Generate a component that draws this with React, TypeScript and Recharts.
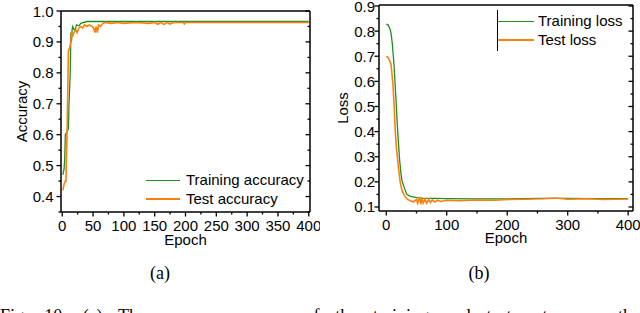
import { LineChart, Line, XAxis, YAxis, Legend } from "recharts";

// accuracy panel (a)
const trainAccEpochs = [1, 2, 3, 4, 5, 8, 10, 11, 13, 14, 15, 16, 17, 19, 21, 23, 27, 30, 40, 100, 200, 300, 400];
const trainAccValues = [0.47, 0.48, 0.49, 0.52, 0.6, 0.61, 0.62, 0.7, 0.8, 0.93, 0.9, 0.94, 0.95, 0.94, 0.94, 0.955, 0.952, 0.96, 0.966, 0.966, 0.966, 0.966, 0.966];
const testAccEpochs = [1, 3, 5, 6, 7, 8, 9, 10, 12, 14, 15, 17, 20, 22, 24, 27, 30, 33, 36, 40, 44, 48, 51, 53, 55, 57, 59, 62, 66, 70, 80, 90, 100, 120, 140, 150, 155, 160, 165, 170, 175, 180, 196, 198, 200, 250, 300, 400];
const testAccValues = [0.42, 0.44, 0.45, 0.45, 0.55, 0.62, 0.75, 0.87, 0.88, 0.9, 0.93, 0.92, 0.935, 0.94, 0.93, 0.945, 0.95, 0.945, 0.955, 0.95, 0.955, 0.95, 0.945, 0.93, 0.95, 0.93, 0.955, 0.95, 0.96, 0.963, 0.96, 0.963, 0.96, 0.963, 0.96, 0.963, 0.957, 0.963, 0.956, 0.963, 0.958, 0.963, 0.963, 0.958, 0.963, 0.963, 0.963, 0.963];

// loss panel (b)
const trainLossEpochs = [0, 3, 6, 8, 10, 13, 16, 18, 20, 22, 24, 26, 30, 34, 40, 50, 60, 80, 100, 150, 200, 250, 300, 350, 400];
const trainLossValues = [0.828, 0.825, 0.81, 0.79, 0.75, 0.66, 0.53, 0.44, 0.36, 0.29, 0.24, 0.205, 0.175, 0.15, 0.142, 0.137, 0.135, 0.134, 0.133, 0.132, 0.132, 0.134, 0.134, 0.133, 0.133];
const testLossEpochs = [0, 3, 6, 8, 11, 13, 15, 17, 20, 23, 26, 30, 35, 40, 45, 50, 52, 55, 57, 59, 61, 64, 67, 70, 73, 76, 80, 85, 90, 100, 120, 150, 180, 200, 230, 260, 280, 300, 330, 360, 400];
const testLossValues = [0.7, 0.695, 0.68, 0.665, 0.59, 0.5, 0.4, 0.33, 0.26, 0.2, 0.165, 0.145, 0.13, 0.125, 0.12, 0.13, 0.115, 0.14, 0.11, 0.135, 0.115, 0.13, 0.115, 0.13, 0.118, 0.128, 0.12, 0.127, 0.122, 0.127, 0.125, 0.128, 0.127, 0.13, 0.131, 0.133, 0.136, 0.131, 0.133, 0.13, 0.132];

// ticks (majors get labels)
const accXTicks = [0, 25, 50, 75, 100, 125, 150, 175, 200, 225, 250, 275, 300, 325, 350, 375, 400];
const accYTicks = [0.35, 0.4, 0.45, 0.5, 0.55, 0.6, 0.65, 0.7, 0.75, 0.8, 0.85, 0.9, 0.95, 1.0];
const lossXTicks = [0, 50, 100, 150, 200, 250, 300, 350, 400];
const lossYTicks = [0.1, 0.15, 0.2, 0.25, 0.3, 0.35, 0.4, 0.45, 0.5, 0.55, 0.6, 0.65, 0.7, 0.75, 0.8, 0.85, 0.9];

const accSeriesNames = ["Training accuracy", "Test accuracy"];
const lossSeriesNames = ["Training loss", "Test loss"];

const GREEN = "#1f8f1f";
const ORANGE = "#ff7f0e";
const FONT = "'Liberation Sans', Arial, sans-serif";

const zip = (xs: number[], ys: number[]) => xs.map((epoch, i) => ({ epoch, value: ys[i] }));

type Side = "bottom" | "left" | "top" | "right";

function makeTick(side: Side, isMajor: (v: number) => boolean, fmt?: (v: number) => string, gap = 6) {
  return (props: any) => {
    const { x, y, payload } = props;
    const v = payload.value as number;
    const major = isMajor(v);
    const len = major ? 4.5 : 2.5;
    let line = null;
    let label = null;
    if (side === "bottom") {
      line = <line x1={x} y1={y} x2={x} y2={y + len} stroke="#000" strokeWidth={1.3} />;
      if (major && fmt)
        label = (
          <text x={x} y={y + 19.2} textAnchor="middle" fontSize={15} fontFamily={FONT} fill="#000">
            {fmt(v)}
          </text>
        );
    } else if (side === "left") {
      line = <line x1={x - len} y1={y} x2={x} y2={y} stroke="#000" strokeWidth={1.3} />;
      if (major && fmt)
        label = (
          <text x={x - gap} y={y + 5.5} textAnchor="end" fontSize={15} fontFamily={FONT} fill="#000">
            {fmt(v)}
          </text>
        );
    } else if (side === "top") {
      line = <line x1={x} y1={y} x2={x} y2={y + len} stroke="#000" strokeWidth={1.3} />;
    } else {
      line = <line x1={x} y1={y} x2={x - len} y2={y} stroke="#000" strokeWidth={1.3} />;
    }
    return (
      <g>
        {line}
        {label}
      </g>
    );
  };
}

const every = (step: number) => (v: number) => Math.abs(v / step - Math.round(v / step)) < 1e-6;

function LegendBox({ payload, order, bar }: { payload?: any[]; order: string[]; bar?: boolean }) {
  const items = order
    .map((name) => (payload || []).find((p: any) => p.value === name))
    .filter(Boolean);
  return (
    <div
      style={{
        fontFamily: FONT,
        fontSize: 15,
        color: "#000",
        borderLeft: bar ? "1px solid #000" : "none",
        paddingTop: bar ? 2 : 0,
        paddingBottom: bar ? 2 : 0,
      }}
    >
      {items.map((p: any) => (
        <div key={p.value} style={{ display: "flex", alignItems: "center", height: 18.5, whiteSpace: "nowrap" }}>
          <span style={{ display: "inline-block", width: bar ? 36 : 34, height: 1.5, background: p.color, marginRight: bar ? 4 : 6 }} />
          <span style={{ lineHeight: "18px" }}>{p.value}</span>
        </div>
      ))}
    </div>
  );
}

function AccuracyChart() {
  return (
    <LineChart width={320} height={250} margin={{ top: 0, right: 0, left: 0, bottom: 4 }}>
      <XAxis
        xAxisId="b"
        dataKey="epoch"
        type="number"
        domain={[-2, 402]}
        allowDataOverflow
        ticks={accXTicks}
        interval={0}
        height={34}
        tickSize={0}
        tickMargin={0}
        tickLine={false}
        axisLine={{ stroke: "#000", strokeWidth: 1.5 }}
        tick={makeTick("bottom", every(50), (v) => String(v))}
        label={{ value: "Epoch", position: "insideBottom", offset: 1.5, fontSize: 15, fontFamily: FONT, fill: "#000" }}
      />
      <XAxis
        xAxisId="t"
        orientation="top"
        type="number"
        domain={[-2, 402]}
        allowDataOverflow
        ticks={accXTicks}
        interval={0}
        height={11}
        tickSize={0}
        tickMargin={0}
        tickLine={false}
        axisLine={{ stroke: "#000", strokeWidth: 1.5 }}
        tick={makeTick("top", every(50))}
      />
      <YAxis
        yAxisId="l"
        type="number"
        domain={[0.35, 1.0]}
        allowDataOverflow
        ticks={accYTicks}
        interval={0}
        width={61}
        tickSize={0}
        tickMargin={0}
        tickLine={false}
        axisLine={{ stroke: "#000", strokeWidth: 1.5 }}
        tick={makeTick("left", every(0.1), (v) => v.toFixed(1), 7.5)}
        label={{ value: "Accuracy", angle: -90, position: "insideLeft", offset: 22, fontSize: 15, fontFamily: FONT, fill: "#000", style: { textAnchor: "middle" } }}
      />
      <YAxis
        yAxisId="r"
        orientation="right"
        type="number"
        domain={[0.35, 1.0]}
        allowDataOverflow
        ticks={accYTicks}
        interval={0}
        width={10}
        tickSize={0}
        tickMargin={0}
        tickLine={false}
        axisLine={{ stroke: "#000", strokeWidth: 1.5 }}
        tick={makeTick("right", every(0.1))}
      />
      <Legend
        layout="vertical"
        verticalAlign="middle"
        align="center"
        wrapperStyle={{ left: 146, top: 171, width: "auto" }}
        content={(props: any) => <LegendBox payload={props.payload} order={accSeriesNames} />}
      />
      <Line
        xAxisId="b"
        yAxisId="l"
        data={zip(trainAccEpochs, trainAccValues)}
        dataKey="value"
        name={accSeriesNames[0]}
        type="linear"
        stroke={GREEN}
        strokeWidth={1.3}
        dot={false}
        isAnimationActive={false}
      />
      <Line
        xAxisId="b"
        yAxisId="l"
        data={zip(testAccEpochs, testAccValues)}
        dataKey="value"
        name={accSeriesNames[1]}
        type="linear"
        stroke={ORANGE}
        strokeWidth={1.6}
        dot={false}
        isAnimationActive={false}
      />
    </LineChart>
  );
}

function LossChart() {
  return (
    <LineChart width={320} height={250} margin={{ top: 0, right: 0, left: 0, bottom: 5 }}>
      <XAxis
        xAxisId="b"
        dataKey="epoch"
        type="number"
        domain={[-12, 408]}
        allowDataOverflow
        ticks={lossXTicks}
        interval={0}
        height={34}
        tickSize={0}
        tickMargin={0}
        tickLine={false}
        axisLine={{ stroke: "#000", strokeWidth: 1.5 }}
        tick={makeTick("bottom", every(100), (v) => String(v))}
        label={{ value: "Epoch", position: "insideBottom", offset: 2, fontSize: 15, fontFamily: FONT, fill: "#000" }}
      />
      <XAxis
        xAxisId="t"
        orientation="top"
        type="number"
        domain={[-12, 408]}
        allowDataOverflow
        ticks={lossXTicks}
        interval={0}
        height={5}
        tickSize={0}
        tickMargin={0}
        tickLine={false}
        axisLine={{ stroke: "#000", strokeWidth: 1.5 }}
        tick={makeTick("top", every(100))}
      />
      <YAxis
        yAxisId="l"
        type="number"
        domain={[0.084, 0.904]}
        allowDataOverflow
        ticks={lossYTicks}
        interval={0}
        width={59}
        tickSize={0}
        tickMargin={0}
        tickLine={false}
        axisLine={{ stroke: "#000", strokeWidth: 1.5 }}
        tick={makeTick("left", every(0.1), (v) => v.toFixed(1), 4)}
        label={{ value: "Loss", angle: -90, position: "insideLeft", offset: 23, fontSize: 15, fontFamily: FONT, fill: "#000", style: { textAnchor: "middle" } }}
      />
      <YAxis
        yAxisId="r"
        orientation="right"
        type="number"
        domain={[0.084, 0.904]}
        allowDataOverflow
        ticks={lossYTicks}
        interval={0}
        width={7}
        tickSize={0}
        tickMargin={0}
        tickLine={false}
        axisLine={{ stroke: "#000", strokeWidth: 1.5 }}
        tick={makeTick("right", every(0.1))}
      />
      <Legend
        layout="vertical"
        verticalAlign="middle"
        align="center"
        wrapperStyle={{ left: 177, top: 10, width: "auto" }}
        content={(props: any) => <LegendBox payload={props.payload} order={lossSeriesNames} bar />}
      />
      <Line
        xAxisId="b"
        yAxisId="l"
        data={zip(trainLossEpochs, trainLossValues)}
        dataKey="value"
        name={lossSeriesNames[0]}
        type="linear"
        stroke={GREEN}
        strokeWidth={1.3}
        dot={false}
        isAnimationActive={false}
      />
      <Line
        xAxisId="b"
        yAxisId="l"
        data={zip(testLossEpochs, testLossValues)}
        dataKey="value"
        name={lossSeriesNames[1]}
        type="linear"
        stroke={ORANGE}
        strokeWidth={1.6}
        dot={false}
        isAnimationActive={false}
      />
    </LineChart>
  );
}

export default function App() {
  const serif = "'Liberation Serif', 'Times New Roman', serif";
  return (
    <div style={{ position: "absolute", left: 0, top: 0, width: 640, height: 313, background: "#fff", overflow: "hidden" }}>
      <div style={{ position: "absolute", left: 0, top: 0 }}>
        <AccuracyChart />
      </div>
      <div style={{ position: "absolute", left: 320, top: 0 }}>
        <LossChart />
      </div>
      <div style={{ position: "absolute", left: 140, top: 262, width: 40, textAlign: "center", fontFamily: serif, fontSize: 18, lineHeight: "22px" }}>
        (a)
      </div>
      <div style={{ position: "absolute", left: 459, top: 262, width: 40, textAlign: "center", fontFamily: serif, fontSize: 18, lineHeight: "22px" }}>
        (b)
      </div>
      <div
        style={{
          position: "absolute",
          left: 0,
          top: 306,
          width: 640,
          fontFamily: serif,
          fontSize: 18,
          lineHeight: "20px",
          whiteSpace: "nowrap",
          textAlign: "justify",
          textAlignLast: "justify",
        }}
      >
        Fig. 10. (a) The accuracy curves of the training and test sets over the
      </div>
    </div>
  );
}
